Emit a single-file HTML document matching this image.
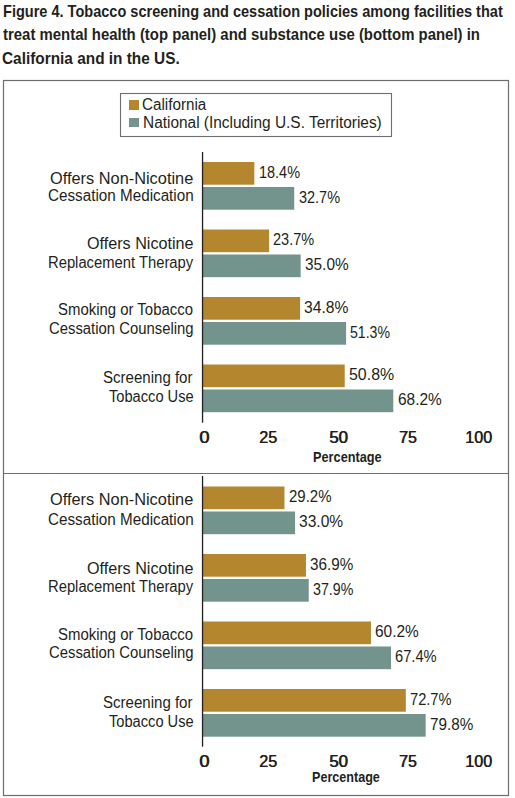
<!DOCTYPE html>
<html><head><meta charset="utf-8"><style>
html,body{margin:0;padding:0;background:#fff;width:515px;height:798px;overflow:hidden}
.t{position:absolute;white-space:nowrap;font-family:"Liberation Sans", sans-serif;color:#231f20;transform-origin:0 0}
svg{position:absolute;left:0;top:0}
</style></head><body>
<svg width="515" height="798" viewBox="0 0 515 798"><rect x='3.5' y='80.5' width='505' height='715' fill='none' stroke='#6d6e71' stroke-width='1.2'/><line x1='3' y1='473.5' x2='509' y2='473.5' stroke='#6d6e71' stroke-width='1.2'/><rect x='120.5' y='93.5' width='271' height='43' fill='none' stroke='#6d6e71' stroke-width='1.1'/><rect x='129' y='100' width='10' height='10' fill='#b4872e'/><rect x='129' y='118' width='10' height='9' fill='#73948c'/><rect x='203' y='162.00' width='51.34' height='22.7' fill='#b4872e'/><rect x='203' y='187.00' width='91.23' height='22.7' fill='#73948c'/><rect x='203' y='229.50' width='66.12' height='22.7' fill='#b4872e'/><rect x='203' y='254.50' width='97.65' height='22.7' fill='#73948c'/><rect x='203' y='297.00' width='97.09' height='22.7' fill='#b4872e'/><rect x='203' y='322.00' width='143.13' height='22.7' fill='#73948c'/><rect x='203' y='364.50' width='141.73' height='22.7' fill='#b4872e'/><rect x='203' y='389.50' width='190.28' height='22.7' fill='#73948c'/><rect x='203' y='486.50' width='81.47' height='22.7' fill='#b4872e'/><rect x='203' y='511.50' width='92.07' height='22.7' fill='#73948c'/><rect x='203' y='554.00' width='102.95' height='22.7' fill='#b4872e'/><rect x='203' y='579.00' width='105.74' height='22.7' fill='#73948c'/><rect x='203' y='621.50' width='167.96' height='22.7' fill='#b4872e'/><rect x='203' y='646.50' width='188.05' height='22.7' fill='#73948c'/><rect x='203' y='689.00' width='202.83' height='22.7' fill='#b4872e'/><rect x='203' y='714.00' width='222.64' height='22.7' fill='#73948c'/><rect x='201.9' y='152' width='1.3' height='270.7' fill='#231f20'/><rect x='201.9' y='476' width='1.3' height='270.7' fill='#231f20'/></svg>
<div class='t' style='left:3.04px;top:3.00px;font-weight:700;font-size:17px;line-height:17px;transform:scaleX(0.8551)'>Figure 4. Tobacco screening and cessation policies among facilities that</div>
<div class='t' style='left:3.00px;top:26.00px;font-weight:700;font-size:17px;line-height:17px;transform:scaleX(0.8782)'>treat mental health (top panel) and substance use (bottom panel) in</div>
<div class='t' style='left:2.20px;top:50.00px;font-weight:700;font-size:17px;line-height:17px;transform:scaleX(0.9046)'>California and in the US.</div>
<div class='t' style='left:142.05px;top:97.00px;font-weight:400;font-size:16px;line-height:16px;transform:scaleX(0.9507)'>California</div>
<div class='t' style='left:142.64px;top:115.00px;font-weight:400;font-size:16px;line-height:16px;transform:scaleX(0.9634)'>National (Including U.S. Territories)</div>
<div class='t' style='left:49.78px;top:171.00px;font-weight:400;font-size:16px;line-height:16px;transform:scaleX(1.0216)'>Offers Non-Nicotine</div>
<div class='t' style='left:48.05px;top:188.00px;font-weight:400;font-size:16px;line-height:16px;transform:scaleX(0.9523)'>Cessation Medication</div>
<div class='t' style='left:86.79px;top:236.00px;font-weight:400;font-size:16px;line-height:16px;transform:scaleX(1.0096)'>Offers Nicotine</div>
<div class='t' style='left:47.78px;top:255.00px;font-weight:400;font-size:16px;line-height:16px;transform:scaleX(0.9237)'>Replacement Therapy</div>
<div class='t' style='left:58.47px;top:302.00px;font-weight:400;font-size:16px;line-height:16px;transform:scaleX(0.9329)'>Smoking or Tobacco</div>
<div class='t' style='left:48.87px;top:321.00px;font-weight:400;font-size:16px;line-height:16px;transform:scaleX(0.9286)'>Cessation Counseling</div>
<div class='t' style='left:103.46px;top:370.00px;font-weight:400;font-size:16px;line-height:16px;transform:scaleX(0.9404)'>Screening for</div>
<div class='t' style='left:108.60px;top:389.00px;font-weight:400;font-size:16px;line-height:16px;transform:scaleX(0.9152)'>Tobacco Use</div>
<div class='t' style='left:49.78px;top:492.00px;font-weight:400;font-size:16px;line-height:16px;transform:scaleX(1.0216)'>Offers Non-Nicotine</div>
<div class='t' style='left:48.05px;top:512.00px;font-weight:400;font-size:16px;line-height:16px;transform:scaleX(0.9523)'>Cessation Medication</div>
<div class='t' style='left:86.79px;top:561.00px;font-weight:400;font-size:16px;line-height:16px;transform:scaleX(1.0096)'>Offers Nicotine</div>
<div class='t' style='left:47.78px;top:579.00px;font-weight:400;font-size:16px;line-height:16px;transform:scaleX(0.9237)'>Replacement Therapy</div>
<div class='t' style='left:58.47px;top:627.00px;font-weight:400;font-size:16px;line-height:16px;transform:scaleX(0.9329)'>Smoking or Tobacco</div>
<div class='t' style='left:48.87px;top:645.00px;font-weight:400;font-size:16px;line-height:16px;transform:scaleX(0.9286)'>Cessation Counseling</div>
<div class='t' style='left:103.46px;top:695.00px;font-weight:400;font-size:16px;line-height:16px;transform:scaleX(0.9404)'>Screening for</div>
<div class='t' style='left:108.60px;top:714.00px;font-weight:400;font-size:16px;line-height:16px;transform:scaleX(0.9152)'>Tobacco Use</div>
<div class='t' style='left:258.63px;top:165.00px;font-weight:400;font-size:16px;line-height:16px;transform:scaleX(0.9045)'>18.4%</div>
<div class='t' style='left:298.53px;top:190.00px;font-weight:400;font-size:16px;line-height:16px;transform:scaleX(0.9045)'>32.7%</div>
<div class='t' style='left:273.41px;top:232.00px;font-weight:400;font-size:16px;line-height:16px;transform:scaleX(0.9091)'>23.7%</div>
<div class='t' style='left:304.89px;top:257.00px;font-weight:400;font-size:16px;line-height:16px;transform:scaleX(0.9614)'>35.0%</div>
<div class='t' style='left:304.31px;top:300.00px;font-weight:400;font-size:16px;line-height:16px;transform:scaleX(0.9773)'>34.8%</div>
<div class='t' style='left:350.45px;top:325.00px;font-weight:400;font-size:16px;line-height:16px;transform:scaleX(0.8818)'>51.3%</div>
<div class='t' style='left:348.94px;top:367.00px;font-weight:400;font-size:16px;line-height:16px;transform:scaleX(0.9955)'>50.8%</div>
<div class='t' style='left:397.51px;top:392.00px;font-weight:400;font-size:16px;line-height:16px;transform:scaleX(0.9636)'>68.2%</div>
<div class='t' style='left:288.73px;top:489.00px;font-weight:400;font-size:16px;line-height:16px;transform:scaleX(0.9364)'>29.2%</div>
<div class='t' style='left:299.30px;top:514.00px;font-weight:400;font-size:16px;line-height:16px;transform:scaleX(0.9727)'>33.0%</div>
<div class='t' style='left:310.20px;top:557.00px;font-weight:400;font-size:16px;line-height:16px;transform:scaleX(0.9523)'>36.9%</div>
<div class='t' style='left:313.05px;top:582.00px;font-weight:400;font-size:16px;line-height:16px;transform:scaleX(0.8886)'>37.9%</div>
<div class='t' style='left:375.19px;top:624.00px;font-weight:400;font-size:16px;line-height:16px;transform:scaleX(0.9636)'>60.2%</div>
<div class='t' style='left:395.33px;top:649.00px;font-weight:400;font-size:16px;line-height:16px;transform:scaleX(0.9182)'>67.4%</div>
<div class='t' style='left:410.12px;top:692.00px;font-weight:400;font-size:16px;line-height:16px;transform:scaleX(0.9159)'>72.7%</div>
<div class='t' style='left:429.89px;top:717.00px;font-weight:400;font-size:16px;line-height:16px;transform:scaleX(0.9523)'>79.8%</div>
<div class='t' style='left:198.76px;top:430.00px;font-weight:400;font-size:16px;line-height:16px;text-shadow:0.6px 0 0 #231f20;transform:scaleX(1.1375)'>0</div>
<div class='t' style='left:259.09px;top:430.00px;font-weight:400;font-size:16px;line-height:16px;text-shadow:0.6px 0 0 #231f20;transform:scaleX(1.0118)'>25</div>
<div class='t' style='left:329.05px;top:430.00px;font-weight:400;font-size:16px;line-height:16px;text-shadow:0.6px 0 0 #231f20;transform:scaleX(1.0529)'>50</div>
<div class='t' style='left:398.80px;top:430.00px;font-weight:400;font-size:16px;line-height:16px;text-shadow:0.6px 0 0 #231f20;transform:scaleX(1.0000)'>75</div>
<div class='t' style='left:465.19px;top:430.00px;font-weight:400;font-size:16px;line-height:16px;text-shadow:0.6px 0 0 #231f20;transform:scaleX(1.0077)'>100</div>
<div class='t' style='left:198.76px;top:754.00px;font-weight:400;font-size:16px;line-height:16px;text-shadow:0.6px 0 0 #231f20;transform:scaleX(1.1375)'>0</div>
<div class='t' style='left:259.09px;top:754.00px;font-weight:400;font-size:16px;line-height:16px;text-shadow:0.6px 0 0 #231f20;transform:scaleX(1.0118)'>25</div>
<div class='t' style='left:329.05px;top:754.00px;font-weight:400;font-size:16px;line-height:16px;text-shadow:0.6px 0 0 #231f20;transform:scaleX(1.0529)'>50</div>
<div class='t' style='left:398.80px;top:754.00px;font-weight:400;font-size:16px;line-height:16px;text-shadow:0.6px 0 0 #231f20;transform:scaleX(1.0000)'>75</div>
<div class='t' style='left:465.19px;top:754.00px;font-weight:400;font-size:16px;line-height:16px;text-shadow:0.6px 0 0 #231f20;transform:scaleX(1.0077)'>100</div>
<div class='t' style='left:312.95px;top:449.00px;font-weight:700;font-size:15px;line-height:15px;transform:scaleX(0.8494)'>Percentage</div>
<div class='t' style='left:312.46px;top:769.00px;font-weight:700;font-size:15px;line-height:15px;transform:scaleX(0.8392)'>Percentage</div>
</body></html>
